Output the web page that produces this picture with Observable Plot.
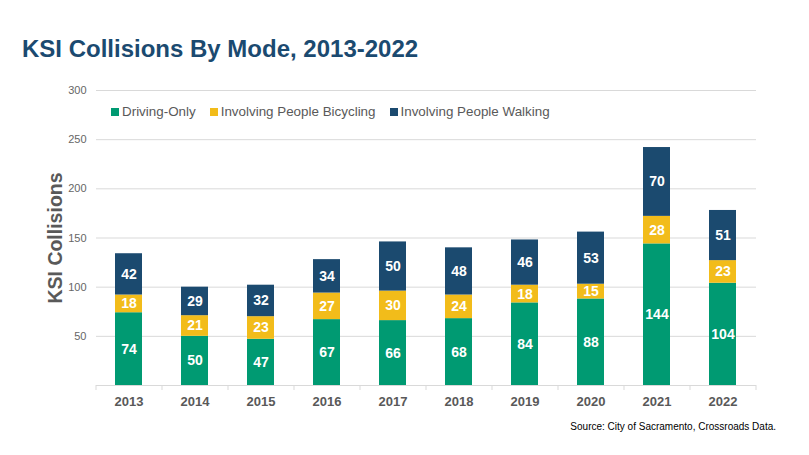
<!DOCTYPE html>
<html><head><meta charset="utf-8">
<script src="https://cdn.jsdelivr.net/npm/d3@7"></script>
<script src="https://cdn.jsdelivr.net/npm/@observablehq/plot@0.6"></script>
<style>
body{margin:0;background:#fff;font-family:"Liberation Sans",Arial,sans-serif;}
#wrap{position:relative;width:809px;height:455px;overflow:hidden;}
#title{position:absolute;left:22px;top:35px;font-size:24px;font-weight:bold;color:#1b4a70;white-space:nowrap;}
#chart{position:absolute;left:0;top:75px;}
#legend{position:absolute;left:111px;top:104px;font-size:13.4px;color:#595959;display:flex;gap:14px;white-space:nowrap;}
#legend span.sw{display:inline-block;width:8px;height:8px;margin-right:3px;vertical-align:0px;}
#caption{position:absolute;right:33px;top:421px;font-size:10px;color:#000;white-space:nowrap;}
</style></head>
<body>
<div id="wrap">
<div id="title">KSI Collisions By Mode, 2013-2022</div>
<div id="chart"></div>
<div id="legend"></div>
<div id="caption">Source: City of Sacramento, Crossroads Data.</div>
</div>
<script>
const years = ["2013","2014","2015","2016","2017","2018","2019","2020","2021","2022"];
const series = ["Driving-Only","Involving People Bicycling","Involving People Walking"];
const colors = ["#009a72","#f2bc1a","#1b4a6f"];
const drivingOnly = [74,50,47,67,66,68,84,88,144,104];
const bicycling = [18,21,23,27,30,24,18,15,28,23];
const walking = [42,29,32,34,50,48,46,53,70,51];
const yTicks = [50,100,150,200,250,300];
const yGrid = [0,50,100,150,200,250,300];

const values = [drivingOnly, bicycling, walking];
const data = [];
years.forEach((yr, i) => {
  series.forEach((s, j) => data.push({year: yr, mode: s, value: values[j][i]}));
});

const plot = Plot.plot({
  width: 809,
  height: 350,
  marginTop: 15,
  marginBottom: 40,
  marginLeft: 96,
  marginRight: 53,
  style: {fontFamily: '"Liberation Sans", Arial, sans-serif', background: "#fff"},
  x: {domain: years, paddingInner: 0.59, paddingOuter: 0.295},
  y: {domain: [0, 300]},
  color: {domain: series, range: colors},
  marks: [
    Plot.gridY(yGrid, {stroke: "#d9d9d9", strokeOpacity: 1, strokeWidth: 1}),
    Plot.barY(data, {x: "year", y: "value", fill: "mode", order: series}),
    Plot.text(data, Plot.stackY({x: "year", y: "value", z: "mode", order: series, text: "value", fill: "white", fontWeight: "bold", fontSize: 14})),
    Plot.ruleX(years, {x: d => d, dx: -33, y1: 0, y2: 0, insetBottom: -5, stroke: "#d9d9d9"}),
    Plot.ruleX([years[years.length-1]], {x: d => d, dx: 33, y1: 0, y2: 0, insetBottom: -5, stroke: "#d9d9d9"}),
    Plot.axisY(yTicks, {tickSize: 0, tickPadding: 10, fontSize: 11, fill: "#666", label: null}),
    Plot.axisX({tickSize: 0, tickPadding: 11, fontSize: 13, fontWeight: "bold", fill: "#595959", label: null}),
    Plot.text(["KSI Collisions"], {text: d => d, frameAnchor: "left", textAnchor: "middle", rotate: -90, dx: -41, fontSize: 19.5, fontWeight: "bold", fill: "#595959"})
  ]
});
document.getElementById("chart").appendChild(plot);

const lg = document.getElementById("legend");
series.forEach((s, j) => {
  const item = document.createElement("span");
  item.innerHTML = `<span class="sw" style="background:${colors[j]}"></span>${s}`;
  lg.appendChild(item);
});
</script>
</body></html>
